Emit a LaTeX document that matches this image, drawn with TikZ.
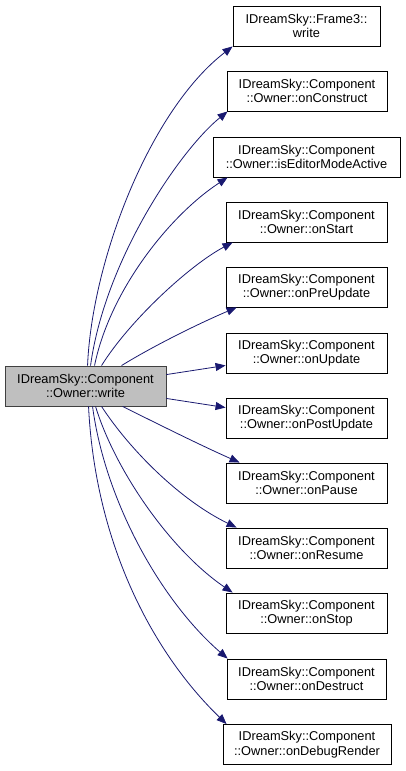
\documentclass[tikz,border=0pt]{standalone}
\usepackage{fontspec}
\setmainfont{Liberation Sans}
\usetikzlibrary{arrows.meta}
\definecolor{edgeblue}{HTML}{191970}
\definecolor{srcfill}{HTML}{BFBFBF}
\definecolor{srcdraw}{HTML}{404040}
\begin{document}
\begin{tikzpicture}[x=1pt,y=-1pt,
  box/.style={draw=black, line width=0.9pt, fill=white, minimum height=40pt, inner sep=0pt, align=center, font=\fontsize{12.8}{14.5}\selectfont},
  srcbox/.style={box, fill=srcfill, draw=srcdraw},
  edge/.style={draw=edgeblue, line width=0.8pt, -{Triangle[length=10pt,width=8pt]}}]
\useasboundingbox (0,0) rectangle (405,771);
\node[srcbox, minimum width=161pt] (src) at (85.5,386) {IDreamSky::Component\\::Owner::write};
\node[box, minimum width=147pt] (t1) at (306.5,26) {IDreamSky::Frame3::\\write};
\node[box, minimum width=160pt] (t2) at (307,91) {IDreamSky::Component\\::Owner::onConstruct};
\node[box, minimum width=187pt] (t3) at (306.5,157) {IDreamSky::Component\\::Owner::isEditorModeActive};
\node[box, minimum width=161pt] (t4) at (306.5,222) {IDreamSky::Component\\::Owner::onStart};
\node[box, minimum width=161pt] (t5) at (306.5,287) {IDreamSky::Component\\::Owner::onPreUpdate};
\node[box, minimum width=161pt] (t6) at (306.5,353) {IDreamSky::Component\\::Owner::onUpdate};
\node[box, minimum width=161pt] (t7) at (306.5,418) {IDreamSky::Component\\::Owner::onPostUpdate};
\node[box, minimum width=161pt] (t8) at (306.5,483) {IDreamSky::Component\\::Owner::onPause};
\node[box, minimum width=161pt] (t9) at (306.5,548) {IDreamSky::Component\\::Owner::onResume};
\node[box, minimum width=161pt] (t10) at (306.5,613) {IDreamSky::Component\\::Owner::onStop};
\node[box, minimum width=159pt] (t11) at (306.5,679) {IDreamSky::Component\\::Owner::onDestruct};
\node[box, minimum width=168pt] (t12) at (307,744.5) {IDreamSky::Component\\::Owner::onDebugRender};
% upward edges
\draw[edge] ([xshift=83pt]src.north west) .. controls (92,260) and (150,110) .. ([xshift=0pt]t1.south west);
\draw[edge] ([xshift=86pt]src.north west) .. controls (105,260) and (180,150) .. ([xshift=1pt]t2.south west);
\draw[edge] ([xshift=90pt]src.north west) .. controls (110,290) and (170,215) .. ([xshift=15pt]t3.south west);
\draw[edge] ([xshift=97pt]src.north west) .. controls (130,320) and (190,265) .. ([xshift=7pt]t4.south west);
\draw[edge] ([xshift=117pt]src.north west) .. controls (155,345) and (200,323) .. ([xshift=11pt]t5.south west);
% side edges
\draw[edge] ([yshift=-9pt]src.north east) -- ([yshift=8pt]t6.south west);
\draw[edge] ([yshift=8pt]src.south east) -- ([yshift=-10pt]t7.north west);
% downward edges
\draw[edge] ([xshift=118pt]src.south west) .. controls (160,425) and (200,445) .. ([xshift=14pt]t8.north west);
\draw[edge] ([xshift=97pt]src.south west) .. controls (130,450) and (180,500) .. ([xshift=11pt]t9.north west);
\draw[edge] ([xshift=91pt]src.south west) .. controls (115,470) and (170,550) .. ([xshift=7pt]t10.north west);
\draw[edge] ([xshift=88pt]src.south west) .. controls (105,500) and (160,600) .. ([xshift=1pt]t11.north west);
\draw[edge] ([xshift=84pt]src.south west) .. controls (95,540) and (150,650) .. ([xshift=4pt]t12.north west);
\end{tikzpicture}
\end{document}
